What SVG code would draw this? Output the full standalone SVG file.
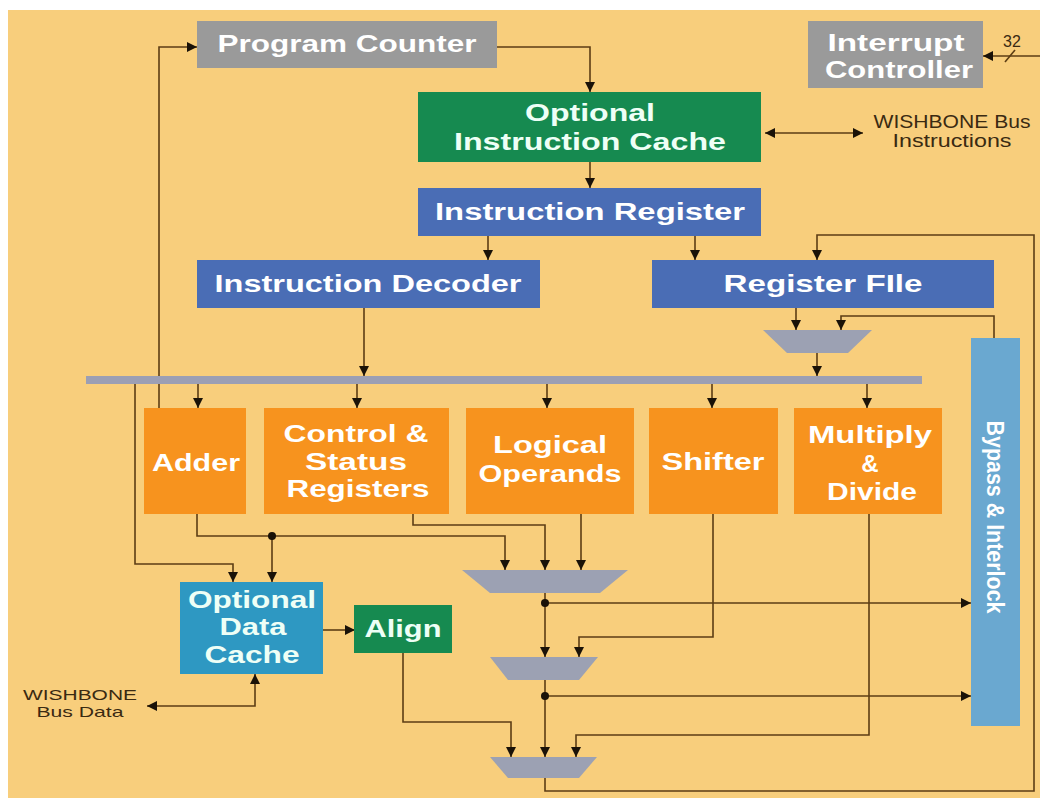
<svg xmlns="http://www.w3.org/2000/svg" width="1040" height="798" viewBox="0 0 1040 798">
<style>
.bx{stroke:none}
.lbl{font-family:"Liberation Sans",Arial,sans-serif;font-weight:bold;font-size:24px;fill:#ffffff;text-anchor:middle}
.lt{fill:#eefff6}
.note{font-family:"Liberation Sans",Arial,sans-serif;font-size:18px;fill:#3a2a12;text-anchor:middle}
.small{font-size:16px}
.sm15{font-size:15px}
.ln{fill:none;stroke:#5c3d14;stroke-width:1.6}
.ar{marker-end:url(#ah)}
.dbl{marker-start:url(#ah);marker-end:url(#ah)}
.mux{fill:#9ca1b3}
.dot{fill:#1a1208}
</style>
<defs>
<marker id="ah" viewBox="0 0 10 10" refX="10" refY="5" markerWidth="11" markerHeight="10" markerUnits="userSpaceOnUse" orient="auto-start-reverse">
<path d="M0,0 L10,5 L0,10 z" fill="#1a1208"/>
</marker>
</defs>
<rect x="0" y="0" width="1040" height="798" fill="#ffffff"/>
<rect x="8" y="10" width="1032" height="788" fill="#f8ce7c"/>

<g id="connectors">
<path class="ln ar" d="M159,408 V47 H197"/>
<path class="ln ar" d="M497,47 H590 V92"/>
<path class="ln ar" d="M590,162 V188"/>
<path class="ln ar" d="M488,236 V260"/>
<path class="ln ar" d="M695,236 V260"/>
<path class="ln dbl" d="M765,133 H863"/>
<path class="ln ar" d="M1040,56 H983"/>
<path class="ln" d="M1005,62 L1015,50"/>
<path class="ln ar" d="M545,778 V791 H1034 V235 H817 V260"/>
<path class="ln ar" d="M796,308 V330"/>
<path class="ln ar" d="M994,338 V316 H841 V330"/>
<path class="ln ar" d="M817,353 V376"/>
<path class="ln ar" d="M364,308 V376"/>
<path class="ln ar" d="M198,384 V408"/>
<path class="ln ar" d="M357,384 V408"/>
<path class="ln ar" d="M547,384 V408"/>
<path class="ln ar" d="M712,384 V408"/>
<path class="ln ar" d="M867,384 V408"/>
<path class="ln ar" d="M135,384 V564 H233 V582"/>
<path class="ln ar" d="M197,514 V536 H505 V570"/>
<path class="ln ar" d="M272,536 V582"/>
<path class="ln ar" d="M413,514 V525 H545 V570"/>
<path class="ln ar" d="M581,514 V570"/>
<path class="ln ar" d="M545,593 V657"/>
<path class="ln ar" d="M545,603 H971"/>
<path class="ln ar" d="M713,514 V637 H579 V657"/>
<path class="ln ar" d="M545,680 V757"/>
<path class="ln ar" d="M545,696 H971"/>
<path class="ln ar" d="M869,514 V735 H576 V757"/>
<path class="ln ar" d="M403,653 V722 H511 V757"/>
<path class="ln ar" d="M323,630 H355"/>
<path class="ln dbl" d="M147,706 H255 V674"/>
<circle class="dot" cx="272" cy="536" r="4"/>
<circle class="dot" cx="545" cy="603" r="4"/>
<circle class="dot" cx="545" cy="696" r="4"/>
</g>

<g id="bus"><rect x="86" y="376" width="836" height="8" fill="#9c9fb4"/></g>
<g id="mux0"><polygon class="mux" points="763,330 872,330 848,353 787,353"/></g>
<g id="mux1"><polygon class="mux" points="462,570 628,570 600,593 490,593"/></g>
<g id="mux2"><polygon class="mux" points="490,657 598,657 579,680 508,680"/></g>
<g id="mux3"><polygon class="mux" points="490,757 597,757 579,778 508,778"/></g>

<g id="program-counter">
<rect class="bx" x="197" y="21" width="300" height="47" fill="#9a9a9a"/>
<text class="lbl" x="347" y="52" textLength="259" lengthAdjust="spacingAndGlyphs">Program Counter</text>
</g>
<g id="interrupt-controller">
<rect class="bx" x="808" y="21" width="175" height="67" fill="#9a9a9a"/>
<text class="lbl" x="896" y="51" textLength="137" lengthAdjust="spacingAndGlyphs">Interrupt</text>
<text class="lbl" x="899" y="78" textLength="148" lengthAdjust="spacingAndGlyphs">Controller</text>
</g>
<text class="note small" x="1012" y="47">32</text>
<g id="instruction-cache">
<rect class="bx" x="418" y="92" width="343" height="70" fill="#168a50"/>
<text class="lbl lt" x="590" y="121" textLength="130" lengthAdjust="spacingAndGlyphs">Optional</text>
<text class="lbl lt" x="590" y="150" textLength="272" lengthAdjust="spacingAndGlyphs">Instruction Cache</text>
</g>
<g id="wishbone-instr">
<text class="note" x="952" y="128" textLength="157" lengthAdjust="spacingAndGlyphs">WISHBONE Bus</text>
<text class="note" x="952" y="147" textLength="119" lengthAdjust="spacingAndGlyphs">Instructions</text>
</g>
<g id="instruction-register">
<rect class="bx" x="418" y="188" width="343" height="48" fill="#4a6db5"/>
<text class="lbl" x="590" y="220" textLength="310" lengthAdjust="spacingAndGlyphs">Instruction Register</text>
</g>
<g id="instruction-decoder">
<rect class="bx" x="197" y="260" width="343" height="48" fill="#4a6db5"/>
<text class="lbl" x="368" y="292" textLength="307" lengthAdjust="spacingAndGlyphs">Instruction Decoder</text>
</g>
<g id="register-file">
<rect class="bx" x="652" y="260" width="342" height="48" fill="#4a6db5"/>
<text class="lbl" x="823" y="292" textLength="199" lengthAdjust="spacingAndGlyphs">Register FIle</text>
</g>
<g id="adder">
<rect class="bx" x="144" y="408" width="102" height="106" fill="#f7931e"/>
<text class="lbl" x="196" y="471" textLength="88" lengthAdjust="spacingAndGlyphs">Adder</text>
</g>
<g id="csr">
<rect class="bx" x="264" y="408" width="185" height="106" fill="#f7931e"/>
<text class="lbl" x="356" y="442" textLength="145" lengthAdjust="spacingAndGlyphs">Control &amp;</text>
<text class="lbl" x="356" y="470" textLength="102" lengthAdjust="spacingAndGlyphs">Status</text>
<text class="lbl" x="358" y="497" textLength="143" lengthAdjust="spacingAndGlyphs">Registers</text>
</g>
<g id="logical-operands">
<rect class="bx" x="466" y="408" width="168" height="106" fill="#f7931e"/>
<text class="lbl" x="550" y="453" textLength="114" lengthAdjust="spacingAndGlyphs">Logical</text>
<text class="lbl" x="550" y="482" textLength="143" lengthAdjust="spacingAndGlyphs">Operands</text>
</g>
<g id="shifter">
<rect class="bx" x="649" y="408" width="129" height="106" fill="#f7931e"/>
<text class="lbl" x="713" y="470" textLength="103" lengthAdjust="spacingAndGlyphs">Shifter</text>
</g>
<g id="multiply-divide">
<rect class="bx" x="794" y="408" width="148" height="106" fill="#f7931e"/>
<text class="lbl" x="870" y="443" textLength="124" lengthAdjust="spacingAndGlyphs">Multiply</text>
<text class="lbl" x="870" y="472">&amp;</text>
<text class="lbl" x="872" y="500" textLength="90" lengthAdjust="spacingAndGlyphs">Divide</text>
</g>
<g id="bypass-interlock">
<rect class="bx" x="971" y="338" width="49" height="388" fill="#6aa8d0"/>
<text class="lbl" transform="translate(987,517) rotate(90)" x="0" y="0" textLength="193" lengthAdjust="spacingAndGlyphs">Bypass &amp; Interlock</text>
</g>
<g id="data-cache">
<rect class="bx" x="180" y="582" width="143" height="92" fill="#2e98c2"/>
<text class="lbl lt" x="252" y="608" textLength="128" lengthAdjust="spacingAndGlyphs">Optional</text>
<text class="lbl lt" x="253" y="635" textLength="67" lengthAdjust="spacingAndGlyphs">Data</text>
<text class="lbl lt" x="252" y="663" textLength="95" lengthAdjust="spacingAndGlyphs">Cache</text>
</g>
<g id="align">
<rect class="bx" x="354" y="605" width="98" height="48" fill="#168a50"/>
<text class="lbl lt" x="403" y="637" textLength="77" lengthAdjust="spacingAndGlyphs">Align</text>
</g>
<g id="wishbone-data">
<text class="note sm15" x="80" y="700" textLength="114" lengthAdjust="spacingAndGlyphs">WISHBONE</text>
<text class="note sm15" x="80" y="717" textLength="87" lengthAdjust="spacingAndGlyphs">Bus Data</text>
</g>
</svg>
